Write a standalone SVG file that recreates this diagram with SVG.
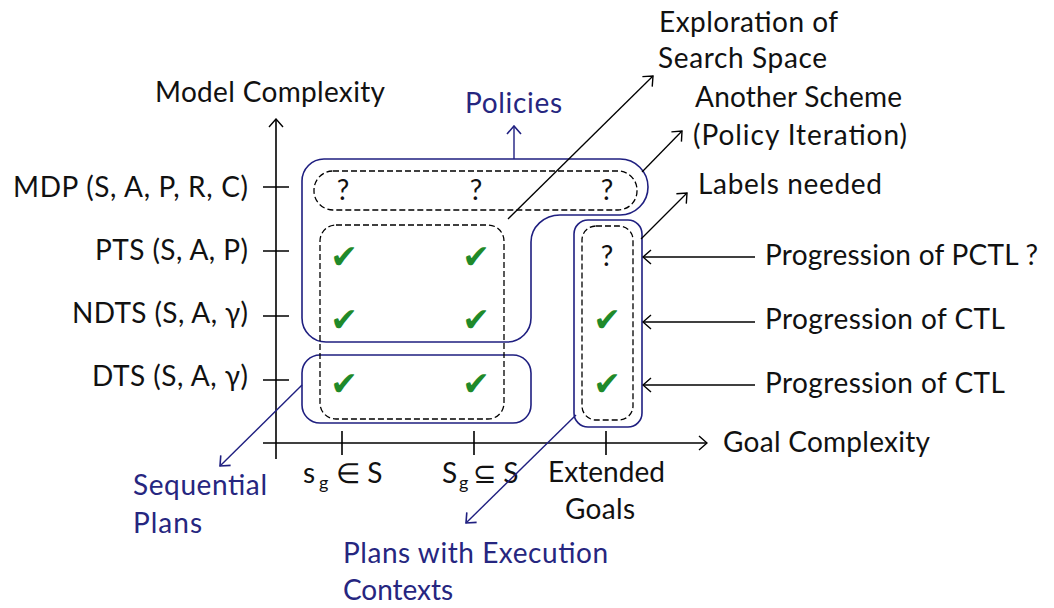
<svg xmlns="http://www.w3.org/2000/svg" width="1054" height="608" viewBox="0 0 1054 608">
  <style>
    text { font-family: Lato, "Open Sans", "Liberation Sans", sans-serif; font-size: 28px; fill: #111; }
    .blue { fill: #262680; }
    .axis { stroke: #000; stroke-width: 1.6; fill: none; }
    .group { stroke: #1f1f80; stroke-width: 1.6; fill: none; }
    .dash { stroke: #000; stroke-width: 1.3; stroke-dasharray: 6 3; fill: none; }
    .lead { stroke: #000; stroke-width: 1.3; fill: none; }
    .leadb { stroke: #1f1f80; stroke-width: 1.4; fill: none; }
    .ok { font-family: "DejaVu Sans", sans-serif; font-size: 33px; fill: #1f8a2a; text-anchor: middle; }
    .q { text-anchor: middle; }
    .sub { font-size: 18px; }
  </style>
  <defs>
    <marker id="arrow" viewBox="0 0 10 16" refX="9" refY="8" markerWidth="10" markerHeight="16" markerUnits="userSpaceOnUse" orient="auto">
      <path d="M1,1 L9,8 L1,15" fill="none" stroke="#000" stroke-width="1.4"/>
    </marker>
    <marker id="arrowBlue" viewBox="0 0 10 16" refX="9" refY="8" markerWidth="10" markerHeight="16" markerUnits="userSpaceOnUse" orient="auto">
      <path d="M1,1 L9,8 L1,15" fill="none" stroke="#1f1f80" stroke-width="1.6"/>
    </marker>
  </defs>

  <!-- axes with ticks -->
  <g id="axes">
    <line class="axis" x1="276" y1="459" x2="276" y2="119" marker-end="url(#arrow)"/>
    <line class="axis" x1="263" y1="443" x2="707" y2="443" marker-end="url(#arrow)"/>
    <path class="axis" d="M263,187 H289 M263,251 H289 M263,316 H289 M263,380 H289"/>
    <path class="axis" d="M342,431 V455 M474,431 V455 M606,431 V455"/>
    <text x="155" y="102" textLength="230">Model Complexity</text>
    <text x="723" y="452" textLength="207">Goal Complexity</text>
  </g>

  <!-- model classes on the vertical axis -->
  <g id="model-labels">
    <text x="13" y="197" textLength="235">MDP (S, A, P, R, C)</text>
    <text x="95" y="260" textLength="153">PTS (S, A, P)</text>
    <text x="72" y="323" textLength="176">NDTS (S, A, γ)</text>
    <text x="92" y="386" textLength="156">DTS (S, A, γ)</text>
  </g>

  <!-- goal classes on the horizontal axis -->
  <g id="goal-labels">
    <text x="303" y="483">s</text>
    <text class="sub" x="319" y="489">g</text>
    <text x="336" y="483">∈ S</text>
    <text x="442" y="483">S</text>
    <text class="sub" x="459" y="489">g</text>
    <text x="473" y="483">⊆ S</text>
    <text x="548" y="482" textLength="117">Extended</text>
    <text x="565" y="519" textLength="70">Goals</text>
  </g>

  <!-- policies region: MDP row plus PTS/NDTS rows -->
  <g id="policies">
    <path class="group" d="M326,159 H620 A28,28 0 0 1 620,215 H560 A29,27 0 0 0 531,242 V318 A24,24 0 0 1 507,342 H326 A24,24 0 0 1 302,318 V181 A22,22 0 0 1 324,159 Z"/>
    <text class="blue" x="465" y="113" textLength="97">Policies</text>
  </g>

  <!-- sequential plans region: DTS row -->
  <g id="sequential-plans">
    <rect class="group" x="302" y="355" width="229" height="68" rx="18"/>
    <text class="blue" x="133" y="495" textLength="134">Sequential</text>
    <text class="blue" x="133" y="533" textLength="69">Plans</text>
  </g>

  <!-- extended goals region -->
  <g id="extended-goals">
    <rect class="group" x="574" y="220" width="68" height="207" rx="14"/>
    <rect class="dash" x="582" y="226" width="51" height="194" rx="14"/>
    <text class="q" x="607" y="266">?</text>
    <text class="ok" x="607" y="331">✔</text>
    <text class="ok" x="607" y="395">✔</text>
  </g>

  <!-- MDP row -->
  <g id="mdp-row">
    <rect class="dash" x="314" y="171" width="323" height="39" rx="19"/>
    <text class="q" x="343" y="200">?</text>
    <text class="q" x="476" y="200">?</text>
    <text class="q" x="607" y="200">?</text>
  </g>

  <!-- reachability / safety goals over PTS, NDTS, DTS -->
  <g id="solved-cells">
    <rect class="dash" x="320" y="225" width="184" height="194" rx="16"/>
    <text class="ok" x="344" y="268">✔</text>
    <text class="ok" x="476" y="268">✔</text>
    <text class="ok" x="344" y="331">✔</text>
    <text class="ok" x="476" y="331">✔</text>
    <text class="ok" x="344" y="395">✔</text>
    <text class="ok" x="476" y="395">✔</text>
  </g>

  <!-- annotations -->
  <g id="notes">
    <text x="659" y="32" textLength="179">Exploration of</text>
    <text x="658" y="68" textLength="169">Search Space</text>
    <text x="695" y="107" textLength="207">Another Scheme</text>
    <text x="693" y="145" textLength="214">(Policy Iteration)</text>
    <text x="698" y="194" textLength="184">Labels needed</text>
    <text x="765" y="265" textLength="273">Progression of PCTL ?</text>
    <text x="765" y="329" textLength="240">Progression of CTL</text>
    <text x="765" y="393" textLength="240">Progression of CTL</text>
    <text class="blue" x="343" y="563" textLength="265">Plans with Execution</text>
    <text class="blue" x="343" y="600" textLength="110">Contexts</text>
  </g>

  <!-- connectors -->
  <g id="connectors">
    <line class="leadb" x1="514" y1="159" x2="514" y2="126" marker-end="url(#arrowBlue)"/>
    <line class="lead" x1="508" y1="219" x2="653" y2="76" marker-end="url(#arrow)"/>
    <line class="lead" x1="642" y1="172" x2="682" y2="131" marker-end="url(#arrow)"/>
    <line class="lead" x1="641" y1="239" x2="687" y2="193" marker-end="url(#arrow)"/>
    <line class="lead" x1="755" y1="257" x2="643" y2="257" marker-end="url(#arrow)"/>
    <line class="lead" x1="755" y1="322" x2="643" y2="322" marker-end="url(#arrow)"/>
    <line class="lead" x1="755" y1="385" x2="643" y2="385" marker-end="url(#arrow)"/>
    <line class="leadb" x1="302" y1="385" x2="220" y2="466" marker-end="url(#arrowBlue)"/>
    <line class="leadb" x1="576" y1="415" x2="466" y2="523" marker-end="url(#arrowBlue)"/>
  </g>
</svg>
